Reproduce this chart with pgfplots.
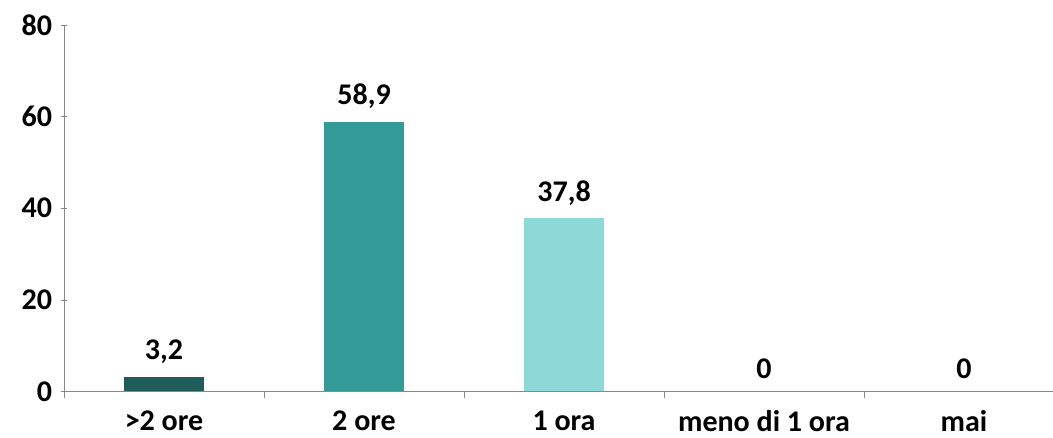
\documentclass[border=0pt]{standalone}
\usepackage{fontspec}
\setmainfont{Carlito}
\usepackage{pgfplots}
\pgfplotsset{compat=1.18}
\definecolor{dk}{HTML}{1F5C5A}
\definecolor{md}{HTML}{339A98}
\definecolor{lt}{HTML}{8DD9D7}
\definecolor{ax}{HTML}{888888}
\begin{document}
\begin{tikzpicture}
\begin{axis}[
  name=ax,
  scale only axis,
  width=741pt, height=274.5pt,
  xmin=-0.5, xmax=4.445,
  ymin=0, ymax=80,
  ytick={0,20,40,60,80},
  xtick={0,1,2,3,4},
  xticklabels={>2 ore,2 ore,1 ora,meno di 1 ora,mai},
  minor xtick={-0.5,0.5,1.5,2.5,3.5},
  major x tick style={draw=none},
  tick align=outside,
  major tick length=5pt,
  minor tick length=5pt,
  axis x line=bottom, axis y line=left,
  axis line style={draw=ax, -},
  tick style={draw=ax},
  every tick label/.append style={font=\fontsize{22.5}{26}\selectfont\bfseries},
  yticklabel style={xshift=-3pt},
  xticklabel style={yshift=-6pt},
  /pgf/number format/assume math mode=true,
  ybar, bar width=60pt, bar shift=0pt,
  nodes near coords,
  nodes near coords style={font=\fontsize{22.5}{26}\selectfont\bfseries, yshift=6pt,
    /pgf/number format/.cd, fixed, precision=1, use comma, assume math mode=true},
  clip=false,
]
\addplot[fill=dk, draw=none] coordinates {(0,3.2)};
\addplot[fill=md, draw=none] coordinates {(1,58.9)};
\addplot[fill=lt, draw=none] coordinates {(2,37.8)};
\addplot[fill=none, draw=none] coordinates {(3,0) (4,0)};
\end{axis}
\pgfresetboundingbox
\path ([xshift=-48pt,yshift=-34.5pt]ax.south west) rectangle ([yshift=18.75pt]ax.north east);
\end{tikzpicture}
\end{document}
